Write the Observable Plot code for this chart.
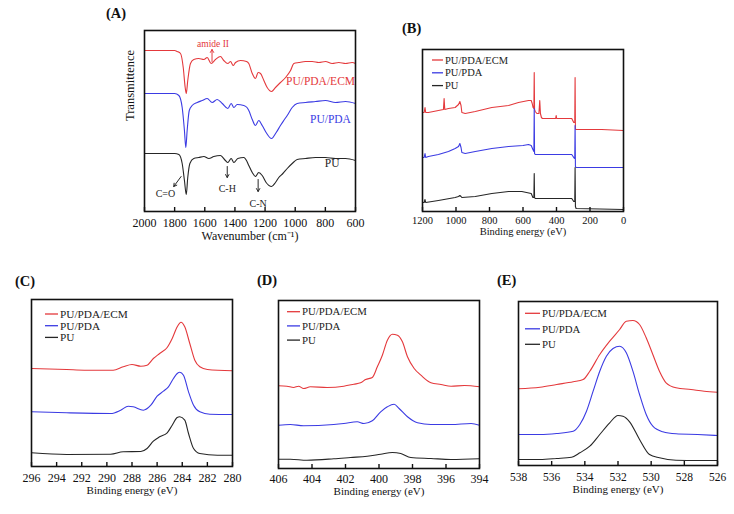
<!DOCTYPE html>
<html><head><meta charset="utf-8">
<script src="https://cdn.jsdelivr.net/npm/d3@7"></script>
<script src="https://cdn.jsdelivr.net/npm/@observablehq/plot@0.6"></script>
<style>
body{margin:0;background:#fff;}
#fig{position:relative;width:734px;height:514px;overflow:hidden;font-family:"Liberation Serif","Times New Roman",serif;background:#fff;}
#fig svg text{font-family:"Liberation Serif","Times New Roman",serif !important;}
.panel{position:absolute;}
#overlay{position:absolute;left:0;top:0;pointer-events:none;}
</style></head><body><div id="fig"></div>
<script>
// ---------- data ----------
const seriesNames = ["PU/PDA/ECM", "PU/PDA", "PU"];
const seriesColors = ["#e4393c", "#3b3be3", "#262626"];

// (A) FTIR: [wavenumber, transmittance (a.u.)]
const ftirTicks = [2000,1800,1600,1400,1200,1000,800,600];
const ftirECM = [[2000,161],[1900,161],[1800,161],[1783,160],[1761,158],[1743,144],[1730,124],[1723,118],[1713,131],[1695,148],[1673,152],[1640,153],[1606,152],[1584,154],[1558,148],[1529,152],[1496,155],[1474,151],[1447,148],[1429,150],[1412,146],[1396,149],[1363,151],[1323,150],[1308,148],[1285,138],[1264,133],[1246,139],[1230,138],[1208,131],[1186,124],[1157,120],[1131,124],[1098,129],[1064,134],[1031,141],[1009,148],[976,149],[932,150],[887,150],[843,149],[799,150],[755,148],[711,149],[666,148],[622,149],[600,148]];
const ftirPDA = [[2000,118],[1900,118],[1800,118],[1772,116],[1750,104],[1735,81],[1726,64],[1717,81],[1703,101],[1684,106],[1650,109],[1617,111],[1584,113],[1551,109],[1518,112],[1484,108],[1447,103],[1425,108],[1407,104],[1385,107],[1341,106],[1320,104],[1308,101],[1285,92],[1264,86],[1242,91],[1219,86],[1193,79],[1157,73],[1126,79],[1098,86],[1076,91],[1053,96],[1020,104],[987,108],[932,109],[865,110],[799,111],[733,109],[666,110],[600,108]];
const ftirPU = [[2000,58],[1900,58],[1800,58],[1772,57],[1750,48],[1735,31],[1723,17],[1713,34],[1699,48],[1673,53],[1640,54],[1606,55],[1573,53],[1540,55],[1496,56],[1463,51],[1447,49],[1425,53],[1407,49],[1381,53],[1341,54],[1320,50],[1308,46],[1285,39],[1264,35],[1242,39],[1219,36],[1193,29],[1157,25],[1131,29],[1109,34],[1082,38],[1053,43],[1020,48],[987,52],[932,53],[865,54],[799,54],[733,53],[666,53],[600,51]];
const ftirNotes = [
  {label:"amide II", x:1545, y:168, c:0, size:9.5},
  {label:"C=O", x:1861, y:18, c:2, size:10},
  {label:"C-H", x:1451, y:23, c:2, size:10},
  {label:"C-N", x:1246, y:8, c:2, size:10},
  {label:"PU/PDA/ECM", x:832, y:130, c:0, size:11.5},
  {label:"PU/PDA", x:766, y:92, c:1, size:11.5},
  {label:"PU", x:755, y:48, c:2, size:11.5}
];
const ftirArrows = [
  {x1:1552, y1:150, x2:1552, y2:162, c:0},
  {x1:1757, y1:35, x2:1806, y2:25, c:2},
  {x1:1451, y1:45, x2:1451, y2:34, c:2},
  {x1:1246, y1:32, x2:1246, y2:20, c:2}
];

// (B) XPS survey: [binding energy, intensity (a.u.)]
const surveyTicks = [1200,1000,800,600,400,200,0];
const surveyECM = [[1200,99],[1190,99],[1185,104],[1181,99],[1165,99],[1105,101],[1075,102],[1071,113],[1067,102],[1045,103],[1005,104],[985,107],[977,110],[970,106],[965,99],[945,98],[885,100],[786,104],[686,106],[627,109],[567,111],[551,111],[545,108],[540,104],[535,103],[533,139],[531,102],[527,100],[517,98],[505,98],[500,111],[496,98],[490,94],[484,93],[428,93],[405,93],[402,96],[399,93],[388,93],[309,93],[297,89],[291,89],[289,134],[287,83],[285,82],[269,82],[130,82],[0,81]];
const surveyPDA = [[1200,54],[1190,54],[1185,58],[1181,54],[1165,55],[1105,57],[1045,60],[1005,63],[985,65],[977,68],[970,64],[965,59],[945,58],[885,60],[786,63],[686,65],[600,66],[567,67],[551,66],[541,62],[535,60],[533,103],[531,58],[527,57],[507,57],[309,57],[297,54],[291,53],[289,86],[287,45],[283,44],[0,44]];
const surveyPU = [[1200,9],[1190,9],[1185,12],[1181,9],[1105,11],[1005,14],[985,15],[977,16],[970,15],[965,14],[885,15],[786,18],[686,20],[607,20],[551,18],[541,14],[535,14],[533,38],[531,14],[527,13],[309,13],[297,10],[291,10],[289,44],[287,5],[283,3],[0,2]];

// (C) C1s
const c1sTicks = [296,294,292,290,288,286,284,282,280];
const c1sECM = [[296,96],[293.2,95],[291.8,94.3],[289.5,94.3],[288.7,97.7],[288,100],[287.3,98.3],[286.8,99.3],[286.3,106],[285.8,111],[285.2,117],[284.8,126],[284.4,137.7],[284.1,142.3],[283.8,137.7],[283.4,121],[283,104.3],[282.6,97.7],[282,95],[280,93.7]];
const c1sPDA = [[296,52.7],[293.2,51.7],[289.7,51],[288.9,54.3],[288.3,58.3],[287.9,57.7],[287.1,54.3],[286.5,59.3],[286,68.3],[285.5,73.3],[285.1,77.7],[284.7,86],[284.4,91],[284.2,92.3],[283.9,89.3],[283.5,72.7],[283.1,59.3],[282.6,52.7],[281.8,50.3],[280,50]];
const c1sPU = [[296,11.7],[293.2,10],[289.7,10.3],[288.7,12.7],[287.3,13],[286.8,16],[286.3,23.3],[285.8,27.7],[285.2,31.7],[284.8,39.3],[284.4,47],[284.2,47.7],[283.8,44.3],[283.5,31],[283.1,16],[282.6,11],[281.2,9.3],[280,9.3]];

// (D) N1s
const n1sTicks = [406,404,402,400,398,396,394];
const n1sECM = [[406,82.7],[405.5,82.3],[405.1,81],[404.8,82.3],[404.5,80],[404.1,81.7],[403.1,81],[402.1,82.3],[401.5,84.3],[401.1,85.7],[400.8,89],[400.4,91],[400.1,101.7],[399.8,113.3],[399.5,128.3],[399.2,134.3],[398.9,133.3],[398.6,126.7],[398.3,111.7],[397.9,100],[397.5,93.3],[396.9,85.7],[396.3,84],[395.7,82.3],[394.9,83],[394,81.7]];
const n1sPDA = [[406,43.3],[405.3,44],[404.5,42.7],[402.7,44],[402.1,45],[401.3,46.7],[400.9,45],[400.4,47.7],[399.9,56.7],[399.5,61.7],[399.1,64.3],[398.8,60],[398.3,51.7],[397.7,45.7],[396.9,44],[395.7,44],[394.5,45],[394,43.3]];
const n1sPU = [[406,9.3],[405.3,9.3],[404.3,8.3],[402.7,9.7],[401.7,11],[400.7,12.3],[399.9,14.3],[399.2,16],[398.7,15],[398.1,11],[396.9,10],[395.7,9],[394,9.7]];

// (E) O1s
const o1sTicks = [538,536,534,532,530,528,526];
const o1sECM = [[538,75.7],[536.7,77.3],[535.7,80],[534.7,82.7],[534.1,85],[533.7,93.3],[533.1,110],[532.5,123.3],[531.9,135],[531.5,143.3],[531.1,144],[530.7,140],[530.3,126.7],[529.9,110],[529.5,93.3],[529.1,81.7],[528.5,76.7],[527.6,75],[526.8,73.3],[526,72.3]];
const o1sPDA = [[538,30],[536.7,30],[535.7,31],[534.7,33.3],[534.3,40],[533.9,53.3],[533.5,73.3],[533.1,93.3],[532.7,108.3],[532.3,116],[531.9,118.3],[531.5,111.7],[531.1,93.3],[530.7,70],[530.3,50],[529.9,38.3],[529.3,32.7],[528.5,30.7],[527.2,30],[526,29]];
const o1sPU = [[538,5],[536.7,5],[535.7,6],[534.8,7.3],[534.3,11.7],[533.7,18.3],[533.1,30],[532.5,41.7],[532,49],[531.7,48.3],[531.3,42.7],[530.7,25],[530.1,10],[529.5,6.7],[528.5,4.3],[527.2,4],[526,4]];

// ---------- drawing ----------
const FONT = "\"Liberation Serif\", \"Times New Roman\", serif";
const fig = document.getElementById("fig");

function makePanel(cfg) {
  const {series, xDomain, yDomain, ticks, m, frameW, frameH, tickPad, tickFont, xTitle, titleDy, titleFont, curve, extra = []} = cfg;
  const marks = [];
  series.forEach((s, k) => marks.push(Plot.line(s, {x: d => d[0], y: d => d[1], stroke: seriesColors[k], strokeWidth: 1.1, curve})));
  marks.push(Plot.tickX(ticks, {x: d => d, insetTop: frameH - 4, stroke: "#111", strokeWidth: 1.4}));
  marks.push(Plot.axisX({ticks, tickSize: 0, tickPadding: tickPad, tickFormat: d => String(d), fontSize: tickFont, fontFamily: FONT, label: null}));
  marks.push(Plot.text([xTitle], {text: d => d, frameAnchor: "bottom", dy: titleDy, fontSize: titleFont, fontFamily: FONT, fill: "#111"}));
  marks.push(...extra);
  marks.push(Plot.frame({stroke: "#111", strokeWidth: 1.6}));
  const svg = Plot.plot({
    width: m[3] + frameW + m[1], height: m[0] + frameH + m[2],
    marginTop: m[0], marginRight: m[1], marginBottom: m[2], marginLeft: m[3],
    x: {domain: xDomain}, y: {domain: yDomain, axis: null},
    style: {fontFamily: FONT, fontSize: "12px", color: "#111", background: "transparent", overflow: "visible"},
    marks
  });
  const wrap = document.createElement("div");
  wrap.className = "panel";
  wrap.style.left = cfg.left + "px";
  wrap.style.top = cfg.top + "px";
  wrap.appendChild(svg);
  fig.appendChild(wrap);
}

// (A)
makePanel({
  left: 95, top: 18, m: [12, 15, 47, 49], frameW: 211, frameH: 181,
  series: [ftirECM, ftirPDA, ftirPU], xDomain: [2000, 600], yDomain: [0, 181],
  ticks: ftirTicks, tickPad: 7, tickFont: 12, xTitle: "Wavenumber (cm⁻¹)", titleDy: 28.5, titleFont: 12,
  curve: "monotone-x",
  extra: [
    Plot.arrow(ftirArrows, {x1: "x1", y1: "y1", x2: "x2", y2: "y2", stroke: d => seriesColors[d.c], strokeWidth: 1, headLength: 5, inset: 0}),
    Plot.text(ftirNotes, {x: "x", y: "y", text: "label", fill: d => seriesColors[d.c], fontSize: d => d.size, fontFamily: FONT}),
    Plot.text(["Transmittence"], {text: d => d, frameAnchor: "left", rotate: -90, dx: -15, fontSize: 12.5, fontFamily: FONT, fill: "#111"})
  ]
});
// (B)
makePanel({
  left: 395, top: 38, m: [11, 12, 37, 27], frameW: 201, frameH: 162,
  series: [surveyECM, surveyPDA, surveyPU], xDomain: [1200, 0], yDomain: [0, 162],
  ticks: surveyTicks, tickPad: 5, tickFont: 10.5, xTitle: "Binding energy (eV)", titleDy: 23, titleFont: 10.5,
  curve: "linear"
});
// (C)
makePanel({
  left: 5, top: 288, m: [11, 13, 37, 26], frameW: 201, frameH: 167,
  series: [c1sECM, c1sPDA, c1sPU], xDomain: [296, 280], yDomain: [-2, 165],
  ticks: c1sTicks, tickPad: 7, tickFont: 12, xTitle: "Binding energy (eV)", titleDy: 27, titleFont: 11,
  curve: "monotone-x"
});
// (D)
makePanel({
  left: 255, top: 288, m: [12, 16, 35, 23], frameW: 201, frameH: 168,
  series: [n1sECM, n1sPDA, n1sPU], xDomain: [406, 394], yDomain: [0, 168],
  ticks: n1sTicks, tickPad: 6, tickFont: 12, xTitle: "Binding energy (eV)", titleDy: 26, titleFont: 11,
  curve: "monotone-x"
});
// (E)
makePanel({
  left: 494, top: 288, m: [13, 15, 38, 24], frameW: 199, frameH: 164,
  series: [o1sECM, o1sPDA, o1sPU], xDomain: [538, 526], yDomain: [-1, 163],
  ticks: o1sTicks, tickPad: 7, tickFont: 11.5, xTitle: "Binding energy (eV)", titleDy: 27, titleFont: 11,
  curve: "monotone-x"
});

// overlay: panel letters and legends
const ov = d3.select(fig).append("svg").attr("id", "overlay").attr("width", 734).attr("height", 514)
  .style("font-family", FONT);
const letters = [["(A)", 106, 18], ["(B)", 402, 33], ["(C)", 15, 286], ["(D)", 257, 285], ["(E)", 497, 285]];
letters.forEach(([t, x, y]) => ov.append("text").attr("x", x).attr("y", y).attr("font-weight", "bold").attr("font-size", 14.5).attr("fill", "#111").text(t));
const legends = [
  {x: 432, y: 60, dy: 12.8, len: 11, size: 10.5},
  {x: 45, y: 314, dy: 11.7, len: 13, size: 11.3},
  {x: 287, y: 311.7, dy: 14.2, len: 13, size: 10.8},
  {x: 525, y: 313.3, dy: 15.5, len: 15, size: 10.8}
];
legends.forEach(L => {
  seriesNames.forEach((name, i) => {
    const y = L.y + i * L.dy;
    ov.append("line").attr("x1", L.x).attr("x2", L.x + L.len).attr("y1", y).attr("y2", y).attr("stroke", seriesColors[i]).attr("stroke-width", 1.3);
    ov.append("text").attr("x", L.x + L.len + 2).attr("y", y).attr("dy", "0.35em").attr("font-size", L.size).attr("fill", "#222").text(name);
  });
});
</script></body></html>
